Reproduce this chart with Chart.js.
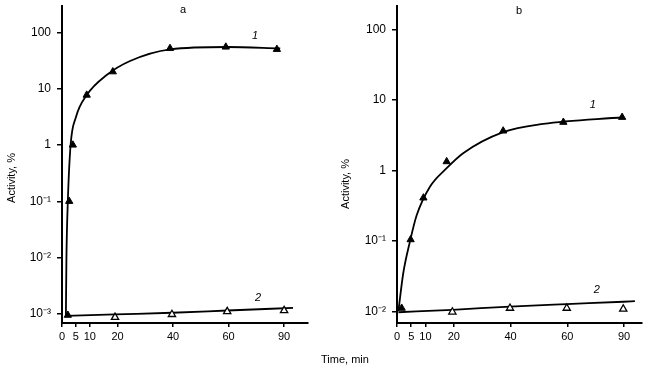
<!DOCTYPE html>
<html><head><meta charset="utf-8">
<script src="https://cdn.jsdelivr.net/npm/chart.js@4/dist/chart.umd.min.js"></script>
<style>
html,body{margin:0;padding:0;background:#fff;width:648px;height:378px;overflow:hidden;}
#wa{position:absolute;left:0;top:0;width:324px;height:378px;}
#wb{position:absolute;left:324px;top:0;width:324px;height:378px;}
#xt{position:absolute;left:295px;width:100px;top:353px;text-align:center;font:11px "Liberation Sans",Arial,sans-serif;color:#000;line-height:13px;}
</style></head><body>
<div id="wa"><canvas id="ca" width="324" height="378" style="width:324px;height:378px"></canvas></div>
<div id="wb"><canvas id="cb" width="324" height="378" style="width:324px;height:378px"></canvas></div>
<div id="xt">Time, min</div>
<script>
// ---- shared x axis (axis position; the "90" tick sits at position 80 in the original figure)
const xTickPos = [0, 5, 10, 20, 40, 60, 80];
const xTickLabels = ['0', '5', '10', '20', '40', '60', '90'];

// ---- panel a
const yTicksA = [1e-3, 1e-2, 1e-1, 1, 10, 100];
const yLabelsA = ['10\u207B\u00B3', '10\u207B\u00B2', '10\u207B\u00B9', '1', '10', '100'];
const pointsA1x = [2.1, 2.6, 3.9, 8.9, 18.3, 38.9, 59, 77.4];
const pointsA1y = [0.00095, 0.1, 1, 7.7, 20, 52, 55, 50];
const pointsA2x = [19.1, 39.6, 59.5, 80];
const pointsA2y = [0.00087, 0.00098, 0.0011, 0.00115];
const curveA1x = [1.4, 1.6, 2.1, 3.1, 5, 8.9, 16.1, 24.5, 39, 59.5, 78.6];
const curveA1y = [0.00093, 0.01, 0.1, 1, 3.1, 7.7, 17.5, 31, 50, 55, 52];
const curveA2x = [1.4, 19.1, 39.6, 59.5, 83.2];
const curveA2y = [0.00092, 0.00098, 0.00105, 0.00115, 0.00128];

// ---- panel b
const yTicksB = [1e-2, 1e-1, 1, 10, 100];
const yLabelsB = ['10\u207B\u00B2', '10\u207B\u00B9', '1', '10', '100'];
const pointsB1x = [1.65, 4.8, 9.3, 17.5, 37.4, 58.6, 79.3];
const pointsB1y = [0.0112, 0.105, 0.41, 1.34, 3.65, 4.85, 5.7];
const pointsB2x = [19.5, 39.8, 59.8, 79.7];
const pointsB2y = [0.0099, 0.0112, 0.0112, 0.0109];
const curveB1x = [0.5, 2.2, 4.6, 6.9, 11.6, 17.5, 23.3, 37.4, 51.5, 79.7];
const curveB1y = [0.0102, 0.035, 0.1, 0.23, 0.59, 1.08, 1.76, 3.5, 4.58, 5.7];
const curveB2x = [0.5, 19.5, 39.8, 59.8, 79.7, 83.8];
const curveB2y = [0.0098, 0.0106, 0.0118, 0.0128, 0.0138, 0.0141];

const FONT = '"Liberation Sans", Arial, Helvetica, sans-serif';
const zip = (xs, ys) => xs.map((x, i) => ({x: x, y: ys[i]}));

const textPlugin = {
  id: 'freeText',
  afterDraw(chart, args, opts) {
    const ctx = chart.ctx, xs = chart.scales.x, ys = chart.scales.y;
    (opts.items || []).forEach(it => {
      ctx.save();
      ctx.font = it.font;
      ctx.fillStyle = '#000';
      ctx.textAlign = 'center';
      ctx.textBaseline = 'middle';
      if (it.rot) {
        ctx.translate(it.px, it.py);
        ctx.rotate(-Math.PI / 2);
        ctx.fillText(it.text, 0, 0);
      } else {
        ctx.fillText(it.text, xs.getPixelForValue(it.x), ys.getPixelForValue(it.y));
      }
      ctx.restore();
    });
  }
};

function noPad(s) { s.paddingTop = 0; s.paddingBottom = 0; s.paddingLeft = 0; s.paddingRight = 0; }

function makeChart(id, cfg) {
  const datasets = [
    {data: zip(cfg.p1x, cfg.p1y), showLine: false, pointStyle: 'triangle', pointRadius: 4.2,
     backgroundColor: '#000', borderColor: '#000', borderWidth: 1, order: 0},
    {data: zip(cfg.p2x, cfg.p2y), showLine: false, pointStyle: 'triangle', pointRadius: 4.2,
     backgroundColor: '#fff', borderColor: '#000', borderWidth: 1.3, order: 0},
    {data: zip(cfg.c1x, cfg.c1y), showLine: true, pointRadius: 0, borderColor: '#000', borderWidth: 1.8,
     cubicInterpolationMode: 'monotone', fill: false, order: 1},
    {data: zip(cfg.c2x, cfg.c2y), showLine: true, pointRadius: 0, borderColor: '#000', borderWidth: 1.8,
     cubicInterpolationMode: 'monotone', fill: false, order: 1}
  ];
  return new Chart(document.getElementById(id), {
    type: 'scatter',
    data: {datasets},
    plugins: [textPlugin],
    options: {
      responsive: false, animation: false, devicePixelRatio: 1,
      layout: {padding: {left: 0, top: 5, right: cfg.padRight, bottom: 0}},
      plugins: {legend: {display: false}, tooltip: {enabled: false}, freeText: {items: cfg.texts}},
      scales: {
        x: {
          type: 'linear', min: 0, max: cfg.xMax, bounds: 'data',
          afterBuildTicks: s => { s.ticks = xTickPos.map(v => ({value: v})); },
          afterFit: s => { s.height = 55; noPad(s); },
          ticks: {callback: (v, i) => xTickLabels[i], autoSkip: false, maxRotation: 0, padding: 3,
                  color: '#000', font: {family: FONT, size: 11}},
          grid: {drawOnChartArea: false, drawTicks: true, tickLength: 4, color: '#000', lineWidth: 1.5},
          border: {display: true, color: '#000', width: 2}
        },
        y: {
          type: 'logarithmic', min: cfg.yMin, max: cfg.yMax, bounds: 'data',
          afterBuildTicks: s => { s.ticks = cfg.yTicks.map(v => ({value: v})); },
          afterFit: s => { s.width = cfg.yWidth; noPad(s); },
          ticks: {callback: (v, i) => cfg.yLabels[i], autoSkip: false, padding: 6,
                  color: '#000', font: {family: FONT, size: 12}},
          grid: {drawOnChartArea: false, drawTicks: true, tickLength: 5, color: '#000', lineWidth: 1.5},
          border: {display: true, color: '#000', width: 2}
        }
      }
    }
  });
}

makeChart('ca', {
  p1x: pointsA1x, p1y: pointsA1y, p2x: pointsA2x, p2y: pointsA2y,
  c1x: curveA1x, c1y: curveA1y, c2x: curveA2x, c2y: curveA2y,
  xMax: 88.6, yMin: 6.9e-4, yMax: 300, yTicks: yTicksA, yLabels: yLabelsA,
  yWidth: 62, padRight: 16,
  texts: [
    {text: 'a', x: 43.6, y: 245, font: '11px ' + FONT},
    {text: '1', x: 69.5, y: 88, font: 'italic 11px ' + FONT},
    {text: '2', x: 70.6, y: 0.0019, font: 'italic 11px ' + FONT},
    {text: 'Activity, %', rot: true, px: 12, py: 178, font: '11px ' + FONT}
  ]
});

makeChart('cb', {
  p1x: pointsB1x, p1y: pointsB1y, p2x: pointsB2x, p2y: pointsB2y,
  c1x: curveB1x, c1y: curveB1y, c2x: curveB2x, c2y: curveB2y,
  xMax: 86.3, yMin: 0.0069, yMax: 219, yTicks: yTicksB, yLabels: yLabelsB,
  yWidth: 73, padRight: 6,
  texts: [
    {text: 'b', x: 43, y: 186, font: '11px ' + FONT},
    {text: '1', x: 69, y: 8.5, font: 'italic 11px ' + FONT},
    {text: '2', x: 70.4, y: 0.0204, font: 'italic 11px ' + FONT},
    {text: 'Activity, %', rot: true, px: 22, py: 184, font: '11px ' + FONT}
  ]
});
</script>
</body></html>
